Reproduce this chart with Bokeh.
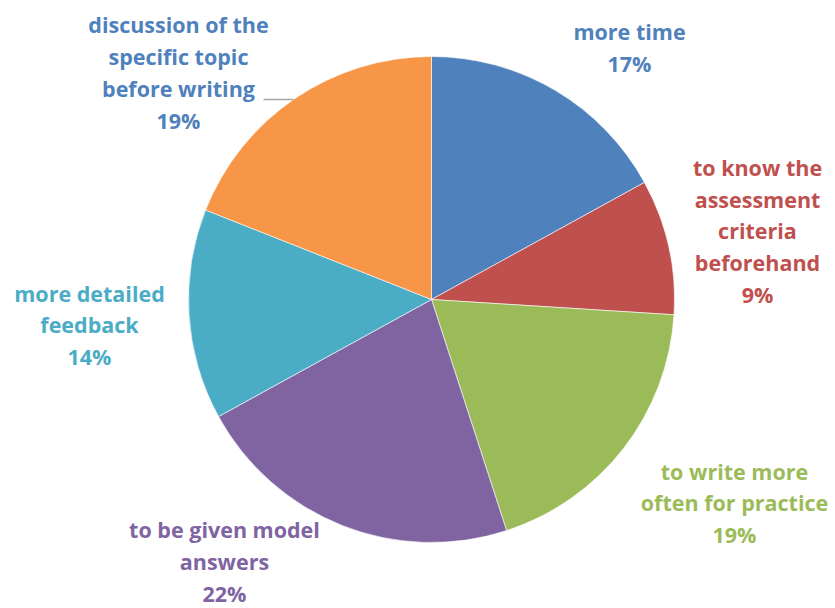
import math
from bokeh.plotting import figure
from bokeh.models import ColumnDataSource, Range1d
from bokeh.core.properties import value
from bokeh.embed import file_html
from bokeh.resources import INLINE

# ---- data ----
categories = [
    "more time",
    "to know the\nassessment\ncriteria\nbeforehand",
    "to write more\noften for practice",
    "to be given model\nanswers",
    "more detailed\nfeedback",
    "discussion of the\nspecific topic\nbefore writing",
]
percents = [17, 9, 19, 22, 14, 19]
colors = ["#4F81BD", "#C0504D", "#9BBB59", "#8064A2", "#4BACC6", "#F79646"]
label_colors = ["#4F81BD", "#C0504D", "#9BBB59", "#8064A2", "#4BACC6", "#4F81BD"]

# ---- layout (pixel coords, top-down) ----
W, H = 835, 608
CX, CY, R = 431, 299, 243
label_pos = [(629, 47), (757, 230.5), (734, 502.5), (224, 561), (89, 324.5), (178, 72)]

total = sum(percents)
starts, ends = [], []
cum = 0
for v in percents:
    starts.append(math.pi / 2 - 2 * math.pi * cum / total)
    cum += v
    ends.append(math.pi / 2 - 2 * math.pi * cum / total)

src = ColumnDataSource(dict(
    x=[CX] * len(percents), y=[H - CY] * len(percents),
    start=starts, end=ends, color=colors,
))

p = figure(width=W, height=H, x_range=Range1d(0, W), y_range=Range1d(0, H),
           output_backend="svg", toolbar_location=None, min_border=0)
p.axis.visible = False
p.grid.visible = False
p.outline_line_color = None
p.background_fill_color = "white"

p.wedge(x="x", y="y", radius=R, radius_units="data", start_angle="start", end_angle="end",
        direction="clock", fill_color="color", line_color="white", line_width=0.6, source=src)

labels = [f"{c}\n{v}%" for c, v in zip(categories, percents)]
lsrc = ColumnDataSource(dict(
    x=[lp[0] for lp in label_pos], y=[H - lp[1] for lp in label_pos],
    text=labels, color=label_colors,
))
p.text(x="x", y="y", text="text", text_color="color", source=lsrc,
       text_font=value("Open Sans"), text_font_style="bold", text_font_size="21.5px",
       text_align="center", text_baseline="middle", text_line_height=1.1)

# leader line for the "discussion" label
p.line(x=[263, 293], y=[H - 99, H - 99], line_color="#A6A6A6", line_width=1.3)

open("out.html", "w").write(file_html(p, INLINE))
